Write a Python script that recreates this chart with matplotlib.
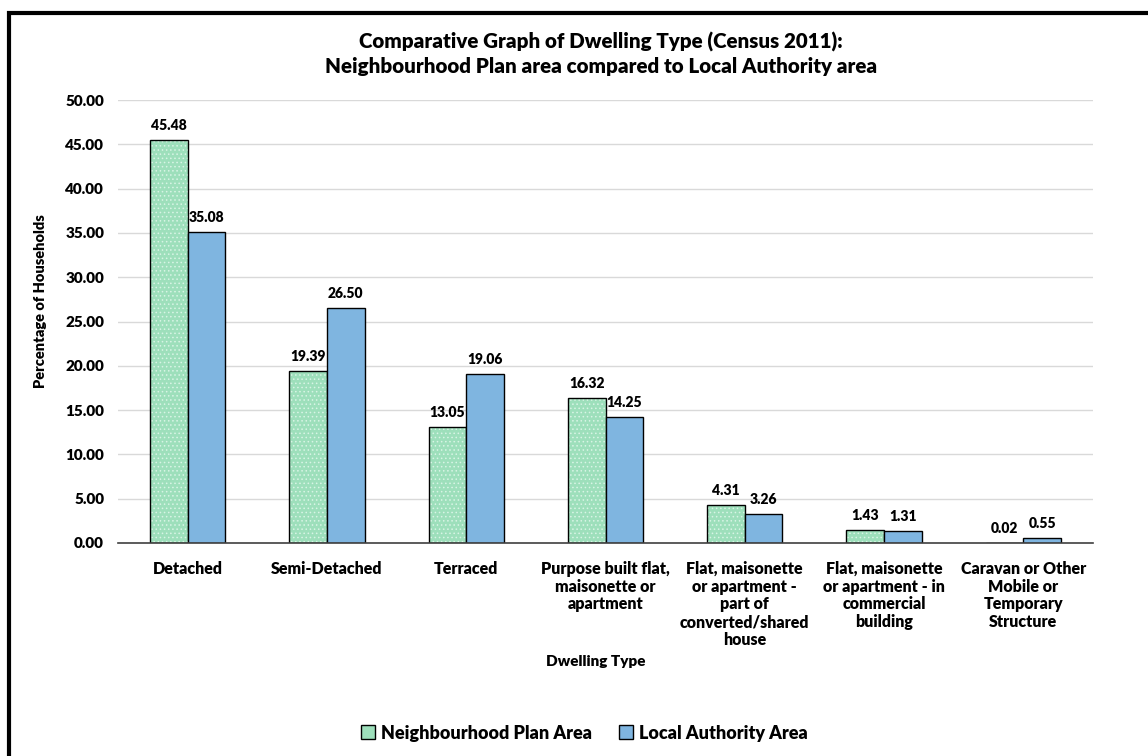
import numpy as np
import matplotlib.pyplot as plt
from matplotlib.patches import Rectangle

plt.rcParams['font.family'] = ['Lato', 'DejaVu Sans']
plt.rcParams['hatch.linewidth'] = 0.6
W = "heavy"

# dwelling types, census 2011
categories = ["Detached", "Semi-Detached", "Terraced",
              "Purpose built flat,\nmaisonette or\napartment",
              "Flat, maisonette\nor apartment -\npart of\nconverted/shared\nhouse",
              "Flat, maisonette\nor apartment - in\ncommercial\nbuilding",
              "Caravan or Other\nMobile or\nTemporary\nStructure"]
np_area = [45.48, 19.39, 13.05, 16.32, 4.31, 1.43, 0.02]
la_area = [35.08, 26.50, 19.06, 14.25, 3.26, 1.31, 0.55]

green = "#9ddfbb"
blue = "#7fb5e0"

fig = plt.figure(figsize=(11.48, 7.56), dpi=100)
ax = fig.add_axes([118/1148, 1-543/756, 975/1148, 443/756])

x = np.arange(len(categories))
w = 0.27

# green bars get a fine light dot pattern, then a black outline on top
ax.bar(x - w/2, np_area, w, color=green, edgecolor="#d8f4e5", hatch="....", linewidth=0, zorder=2)
ax.bar(x - w/2, np_area, w, color="none", edgecolor="black", linewidth=1.0, zorder=3)
ax.bar(x + w/2, la_area, w, color=blue, edgecolor="black", linewidth=1.0, zorder=3)

for i in range(len(categories)):
    ax.text(x[i] - w/2, np_area[i] + 0.9, "%.2f" % np_area[i], ha="center", va="bottom",
            fontsize=10, fontweight=W)
    ax.text(x[i] + w/2, la_area[i] + 0.9, "%.2f" % la_area[i], ha="center", va="bottom",
            fontsize=10, fontweight=W)

ax.set_xlim(-0.5, len(categories) - 0.5)
ax.set_ylim(0, 50)
ax.set_yticks(np.arange(0, 50.1, 5))
ax.set_yticklabels(["%.2f" % v for v in np.arange(0, 50.1, 5)], fontsize=11, fontweight=W)
ax.set_xticks(x)
ax.set_xticklabels(categories, fontsize=11.5, fontweight=W, linespacing=1.13, va="top")
ax.tick_params(axis="y", length=0, pad=10)
ax.tick_params(axis="x", length=0, pad=13)

ax.grid(axis="y", color="#d9d9d9", linewidth=1.0, zorder=0)
ax.set_axisbelow(True)
for s in ["top", "right", "left"]:
    ax.spines[s].set_visible(False)
ax.spines["bottom"].set_color("#404040")
ax.spines["bottom"].set_linewidth(1.2)
ax.spines["bottom"].set_zorder(4)

ax.set_ylabel("Percentage of Households", fontsize=10.5, fontweight=W, va="center")
ax.yaxis.set_label_coords(-0.079, 0.546)
fig.text(596/1148, 1-661/756, "Dwelling Type", ha="center", va="center", fontsize=11, fontweight=W)

fig.text(601/1148, 1-54/756,
         "Comparative Graph of Dwelling Type (Census 2011):\nNeighbourhood Plan area compared to Local Authority area",
         ha="center", va="center", fontsize=14.8, fontweight=W, linespacing=1.3)

# legend
h1 = Rectangle((0, 0), 1, 1, facecolor=green, edgecolor="black", linewidth=1.0)
h2 = Rectangle((0, 0), 1, 1, facecolor=blue, edgecolor="black", linewidth=1.0)
fig.legend([h1, h2], ["Neighbourhood Plan Area", "Local Authority Area"],
           loc="center", bbox_to_anchor=(584/1148, 1-733/756), ncol=2, frameon=False,
           prop={"size": 13, "weight": W}, handlelength=0.8, handleheight=0.8,
           handletextpad=0.3, columnspacing=1.5)

# outer frame, runs past the right and bottom edges
fig.patches.append(Rectangle((9/1148, -0.05), 1.2, 1 - 13/756 + 0.05, transform=fig.transFigure,
                             fill=False, edgecolor="black", linewidth=3))

fig.savefig("out.png", dpi=100)
